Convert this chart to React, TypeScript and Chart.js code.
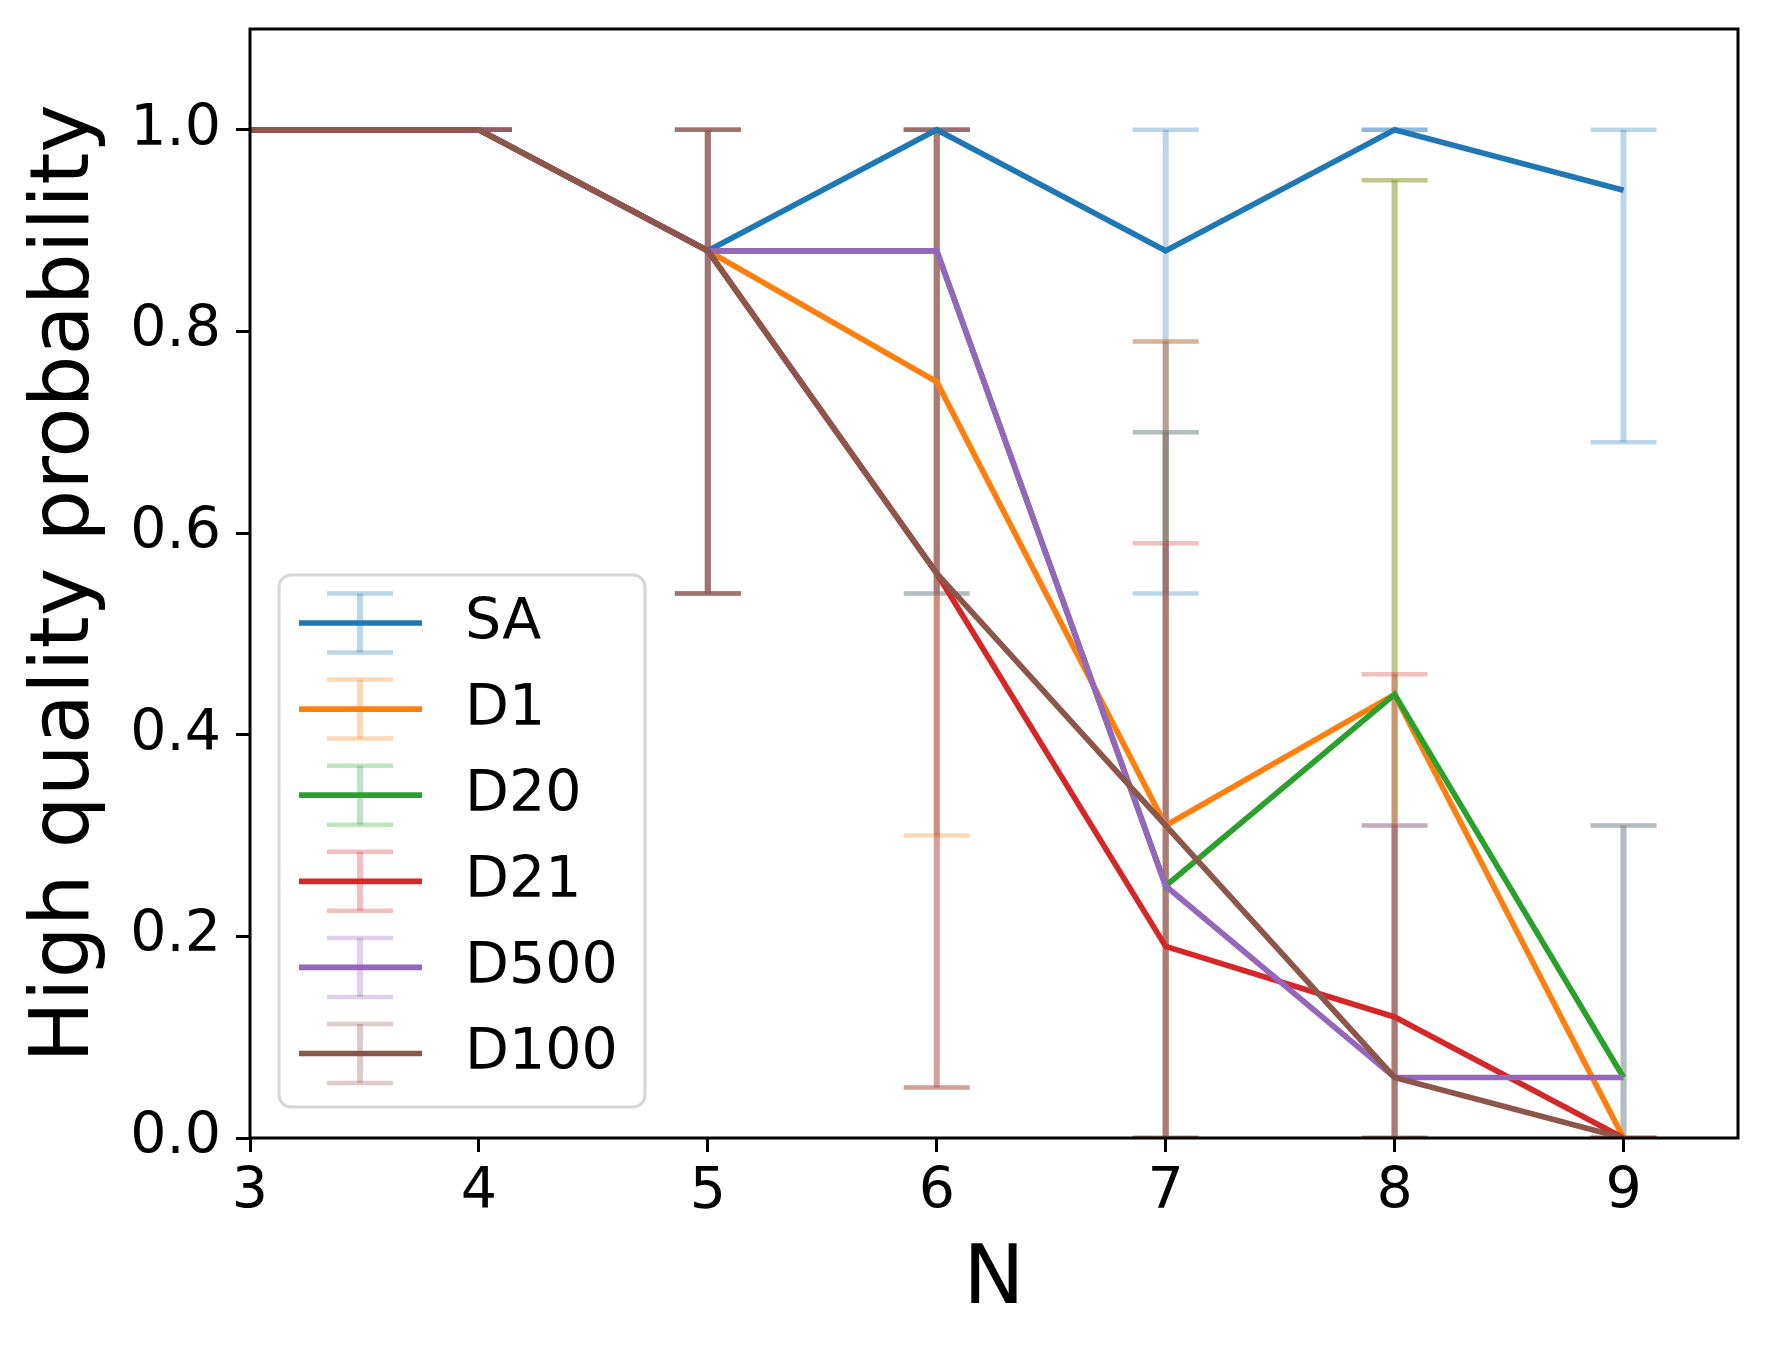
import { useEffect, useRef } from "react";
import { Chart, registerables } from "chart.js";

Chart.register(...registerables);

// N on the x axis
const nValues = [3, 4, 5, 6, 7, 8, 9];
const xTickLabels = ["3", "4", "5", "6", "7", "8", "9"];
const yTickValues = [0, 0.2, 0.4, 0.6, 0.8, 1.0];
const yTickLabels = ["0.0", "0.2", "0.4", "0.6", "0.8", "1.0"];

const seriesNames = ["SA", "D1", "D20", "D21", "D500", "D100"];
const seriesColors = ["#1f77b4", "#ff7f0e", "#2ca02c", "#d62728", "#9467bd", "#8c564b"];

// probability + error bar ends, per series
const saProb = [1.0, 1.0, 0.88, 1.0, 0.88, 1.0, 0.94];
const saLow = [1.0, 1.0, 0.54, 1.0, 0.54, 1.0, 0.69];
const saHigh = [1.0, 1.0, 1.0, 1.0, 1.0, 1.0, 1.0];

const d1Prob = [1.0, 1.0, 0.88, 0.75, 0.31, 0.44, 0.0];
const d1Low = [1.0, 1.0, 0.54, 0.3, 0.0, 0.0, 0.0];
const d1High = [1.0, 1.0, 1.0, 1.0, 0.79, 0.95, 0.0];

const d20Prob = [1.0, 1.0, 0.88, 0.88, 0.25, 0.44, 0.06];
const d20Low = [1.0, 1.0, 0.54, 0.54, 0.0, 0.0, 0.0];
const d20High = [1.0, 1.0, 1.0, 1.0, 0.7, 0.95, 0.31];

const d21Prob = [1.0, 1.0, 0.88, 0.56, 0.19, 0.12, 0.0];
const d21Low = [1.0, 1.0, 0.54, 0.05, 0.0, 0.0, 0.0];
const d21High = [1.0, 1.0, 1.0, 1.0, 0.59, 0.46, 0.0];

const d500Prob = [1.0, 1.0, 0.88, 0.88, 0.25, 0.06, 0.06];
const d500Low = [1.0, 1.0, 0.54, 0.54, 0.0, 0.0, 0.0];
const d500High = [1.0, 1.0, 1.0, 1.0, 0.7, 0.31, 0.31];

const d100Prob = [1.0, 1.0, 0.88, 0.56, 0.31, 0.06, 0.0];
const d100Low = [1.0, 1.0, 0.54, 0.05, 0.0, 0.0, 0.0];
const d100High = [1.0, 1.0, 1.0, 1.0, 0.79, 0.31, 0.0];

const allProb = [saProb, d1Prob, d20Prob, d21Prob, d500Prob, d100Prob];
const allLow = [saLow, d1Low, d20Low, d21Low, d500Low, d100Low];
const allHigh = [saHigh, d1High, d20High, d21High, d500High, d100High];

const W = 1767;
const H = 1352;
const FONT = "'DejaVu Sans', sans-serif";

function withAlpha(hex: string, a: number) {
  const r = parseInt(hex.slice(1, 3), 16);
  const g = parseInt(hex.slice(3, 5), 16);
  const b = parseInt(hex.slice(5, 7), 16);
  return `rgba(${r},${g},${b},${a})`;
}

function drawErrIcon(ctx: CanvasRenderingContext2D, x: number, lo: number, hi: number, color: string) {
  ctx.strokeStyle = withAlpha(color, 0.3);
  ctx.lineWidth = 6;
  ctx.beginPath();
  ctx.moveTo(x, lo);
  ctx.lineTo(x, hi);
  ctx.stroke();
  ctx.lineWidth = 4.5;
  for (const y of [lo, hi]) {
    ctx.beginPath();
    ctx.moveTo(x - 33, y);
    ctx.lineTo(x + 33, y);
    ctx.stroke();
  }
}

const errorBars = {
  id: "errorBars",
  beforeDatasetsDraw(chart: any) {
    const { ctx, chartArea, scales } = chart;
    ctx.save();
    ctx.beginPath();
    ctx.rect(chartArea.left, chartArea.top, chartArea.right - chartArea.left, chartArea.bottom - chartArea.top);
    ctx.clip();
    allProb.forEach((_, i) => {
      nValues.forEach((n, j) => {
        const x = scales.x.getPixelForValue(n);
        drawErrIcon(ctx, x, scales.y.getPixelForValue(allLow[i][j]), scales.y.getPixelForValue(allHigh[i][j]), seriesColors[i]);
      });
    });
    ctx.restore();
  },
  afterDatasetsDraw(chart: any) {
    const { ctx, chartArea } = chart;
    ctx.save();
    ctx.strokeStyle = "#000";
    ctx.lineWidth = 3;
    ctx.strokeRect(chartArea.left, chartArea.top, chartArea.right - chartArea.left, chartArea.bottom - chartArea.top);
    ctx.restore();
  },
  afterDraw(chart: any) {
    const { ctx } = chart;
    const bx = 279, by = 575, bw = 366, bh = 532, r = 12;
    ctx.save();
    ctx.fillStyle = "rgba(255,255,255,0.8)";
    ctx.strokeStyle = "#d6d6d6";
    ctx.lineWidth = 3;
    ctx.beginPath();
    ctx.roundRect(bx, by, bw, bh, r);
    ctx.fill();
    ctx.stroke();
    seriesNames.forEach((name, i) => {
      const cy = 623 + i * 86.1;
      drawErrIcon(ctx, 360, cy + 29.5, cy - 29.5, seriesColors[i]);
      ctx.strokeStyle = seriesColors[i];
      ctx.lineWidth = 5.7;
      ctx.beginPath();
      ctx.moveTo(299, cy);
      ctx.lineTo(422, cy);
      ctx.stroke();
      ctx.fillStyle = "#000";
      ctx.font = `57px ${FONT}`;
      ctx.textBaseline = "middle";
      ctx.textAlign = "left";
      ctx.fillText(name, 465, cy + 1);
    });
    ctx.restore();
  },
};

export default function App() {
  const canvasEl = useRef<HTMLCanvasElement>(null);

  useEffect(() => {
    const ctx = canvasEl.current;
    Chart.defaults.font.family = FONT;
    const chart = new Chart(ctx!, {
      type: "line",
      data: {
        datasets: seriesNames.map((name, i) => ({
          label: name,
          data: nValues.map((n, j) => ({ x: n, y: allProb[i][j] })),
          borderColor: seriesColors[i],
          backgroundColor: seriesColors[i],
          borderWidth: 5.7,
          pointRadius: 0,
          tension: 0,
          fill: false,
          order: seriesNames.length - i,
        })),
      },
      options: {
        animation: false,
        responsive: false,
        devicePixelRatio: 1,
        layout: { padding: { left: 0, top: 29, right: 29, bottom: 0 } },
        plugins: {
          legend: { display: false },
          tooltip: { enabled: false },
        },
        scales: {
          x: {
            type: "linear",
            min: 3,
            max: 9.5,
            afterBuildTicks: (s: any) => {
              s.ticks = nValues.map((v) => ({ value: v }));
            },
            afterFit: (s: any) => {
              s.height = 214;
              s.paddingLeft = 0;
              s.paddingRight = 0;
            },
            ticks: {
              font: { size: 57 },
              color: "#000",
              padding: 7,
              maxRotation: 0,
              callback: (_v: any, i: number) => xTickLabels[i],
            },
            grid: { drawOnChartArea: false, drawTicks: true, tickLength: 14, tickWidth: 3, tickColor: "#000" },
            border: { display: false },
            title: { display: true, text: "N", color: "#000", font: { size: 82 }, padding: { top: 0, bottom: 21 } },
          },
          y: {
            type: "linear",
            min: 0,
            max: 1.1,
            afterBuildTicks: (s: any) => {
              s.ticks = yTickValues.map((v) => ({ value: v }));
            },
            afterFit: (s: any) => {
              s.width = 250;
              s.paddingTop = 0;
              s.paddingBottom = 0;
            },
            ticks: {
              font: { size: 57 },
              color: "#000",
              padding: 15,
              callback: (_v: any, i: number) => yTickLabels[i],
            },
            grid: { drawOnChartArea: false, drawTicks: true, tickLength: 14, tickWidth: 3, tickColor: "#000" },
            border: { display: false },
            title: {
              display: true,
              text: "High quality probability",
              color: "#000",
              font: { size: 82 },
              padding: { top: 18, bottom: 0 },
            },
          },
        },
      },
      plugins: [errorBars],
    });
    return () => {
      chart.destroy();
    };
  }, []);

  return (
    <div style={{ position: "absolute", left: 0, top: 0, width: W, height: H, background: "#fff" }}>
      <canvas ref={canvasEl} width={W} height={H} style={{ display: "block" }} />
    </div>
  );
}
